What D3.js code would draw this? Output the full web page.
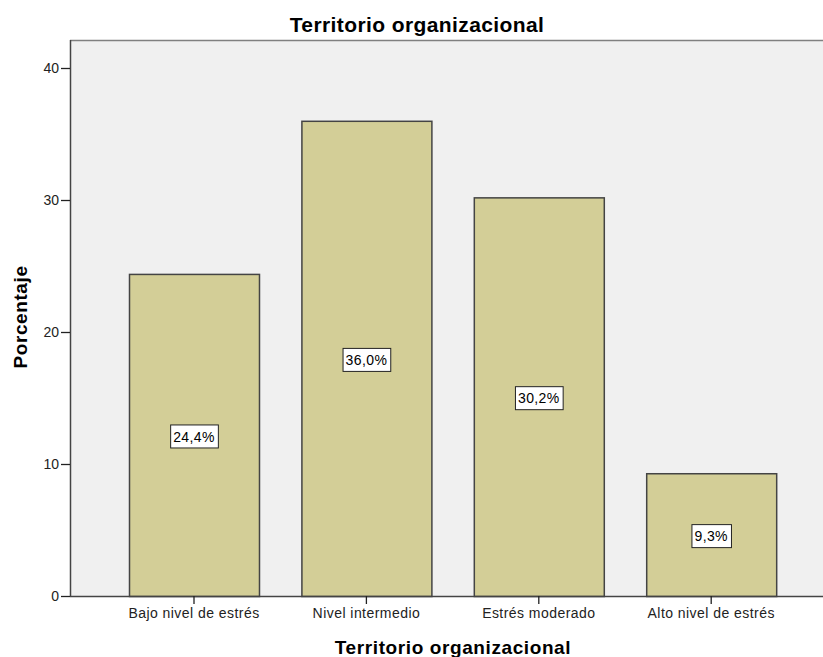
<!DOCTYPE html>
<html><head><meta charset="utf-8">
<script src="https://cdn.jsdelivr.net/npm/d3@7"></script>
<style>body{margin:0;background:#fff}svg{display:block}</style>
</head><body>
<script>
const categories = ["Bajo nivel de estrés","Nivel intermedio","Estrés moderado","Alto nivel de estrés"];
const values = [24.4, 36.0, 30.2, 9.3];
const valueLabels = ["24,4%","36,0%","30,2%","9,3%"];
const yTicks = [0,10,20,30,40];
const title = "Territorio organizacional";
const xTitle = "Territorio organizacional";
const yTitle = "Porcentaje";

const W=823,H=657;
const mLeft=70,mRight=823,mTop=40,mBottom=596;
const svg=d3.select("body").append("svg").attr("width",W).attr("height",H);
const font="Liberation Sans, Arial, sans-serif";

svg.append("rect").attr("x",mLeft).attr("y",mTop).attr("width",mRight-mLeft).attr("height",mBottom-mTop).attr("fill","#f0f0f0");
svg.append("line").attr("x1",mLeft).attr("x2",mRight).attr("y1",mTop+0.5).attr("y2",mTop+0.5).attr("stroke","#808080").attr("stroke-width",1.5);

const x=d3.scaleBand().domain(categories).range([107.8,797.4]).paddingInner(0.246).paddingOuter(0.123);
const y=d3.scaleLinear().domain([0,40]).range([mBottom,68]);

svg.selectAll("rect.bar").data(values).join("rect").attr("class","bar")
 .attr("x",(d,i)=>x(categories[i])+0.5).attr("y",d=>y(d)+0.5)
 .attr("width",x.bandwidth()).attr("height",d=>mBottom-y(d))
 .attr("fill","#d3ce97").attr("stroke","#444").attr("stroke-width",1.5);

const lg=svg.selectAll("g.lab").data(values).join("g").attr("class","lab")
 .attr("transform",(d,i)=>`translate(${x(categories[i])+x.bandwidth()/2},${(y(d)+mBottom)/2+1.5})`);
lg.each(function(d,i){
  const g=d3.select(this);
  const t=g.append("text").text(valueLabels[i]).attr("text-anchor","middle").attr("dy","0.36em")
   .attr("font-family",font).attr("font-size",14).attr("letter-spacing",0.4).attr("fill","#000");
  const w=t.node().getComputedTextLength()+6;
  g.insert("rect","text").attr("x",-w/2+0.5).attr("y",-11.5).attr("width",w).attr("height",23)
   .attr("fill","#fff").attr("stroke","#222").attr("stroke-width",1);
});

const ya=svg.append("g").attr("transform",`translate(${mLeft},0)`)
 .call(d3.axisLeft(y).tickValues(yTicks).tickSize(9).tickPadding(2).tickFormat(d3.format("d")));
ya.select(".domain").attr("d",`M0.5,${mTop}V${mBottom}`).attr("stroke","#444").attr("stroke-width",1.5);
ya.selectAll(".tick line").attr("stroke","#222").attr("stroke-width",1.3);
ya.selectAll("text").attr("font-family",font).attr("font-size",14).attr("fill","#222");

const xa=svg.append("g").attr("transform",`translate(0,${mBottom})`)
 .call(d3.axisBottom(x).tickSize(8).tickPadding(4));
xa.select(".domain").attr("d",`M${mLeft},0.5H${mRight}`).attr("stroke","#444").attr("stroke-width",1.5);
xa.selectAll(".tick line").attr("stroke","#222").attr("stroke-width",1.3);
xa.selectAll("text").attr("font-family",font).attr("font-size",14).attr("letter-spacing",0.45).attr("fill","#222");

svg.append("text").text(title).attr("x",417).attr("y",32).attr("text-anchor","middle")
 .attr("font-family",font).attr("font-weight","bold").attr("font-size",21).attr("letter-spacing",0.4);
svg.append("text").text(xTitle).attr("x",453).attr("y",654).attr("text-anchor","middle")
 .attr("font-family",font).attr("font-weight","bold").attr("font-size",19).attr("letter-spacing",0.6);
svg.append("text").text(yTitle).attr("transform","translate(27,317) rotate(-90)").attr("text-anchor","middle")
 .attr("font-family",font).attr("font-weight","bold").attr("font-size",19).attr("letter-spacing",0.6);
</script>
</body></html>
